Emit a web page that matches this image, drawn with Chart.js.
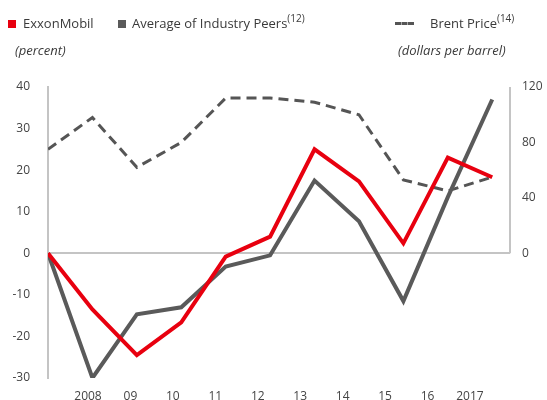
<!DOCTYPE html>
<html>
<head>
<meta charset="utf-8">
<script src="https://cdn.jsdelivr.net/npm/chart.js@4"></script>
<style>
  html, body { margin: 0; padding: 0; background: #fff; }
  #wrap { position: relative; width: 547px; height: 400px; font-family: "Open Sans", sans-serif; color: #3a3a3a; }
  #myChart { position: absolute; left: 0; top: 0; }
  .lbl { position: absolute; font-size: 13px; line-height: 16px; white-space: nowrap; }
  .lbl sup { font-size: 10px; line-height: 0; vertical-align: 6px; }
  .sq { position: absolute; width: 8px; height: 8px; }
  .dash { position: absolute; height: 0; width: 19px; border-top: 3px dashed #555; }
  .unit { font-style: italic; }
</style>
</head>
<body>
<div id="wrap">
  <canvas id="myChart" width="547" height="400"></canvas>
  <div class="sq" style="left:8px;top:20px;background:#e8000f"></div>
  <div class="lbl" style="left:23px;top:15px">ExxonMobil</div>
  <div class="sq" style="left:118px;top:20px;background:#5a5a5a"></div>
  <div class="lbl" style="left:132px;top:15px">Average of Industry Peers<sup>(12)</sup></div>
  <div class="dash" style="left:395px;top:22px"></div>
  <div class="lbl" style="left:430px;top:15px">Brent Price<sup>(14)</sup></div>
  <div class="lbl unit" style="left:15px;top:42px">(percent)</div>
  <div class="lbl unit" style="left:398px;top:42px">(dollars per barrel)</div>
</div>
<script>
// x positions 0..10, first point is the 2007 baseline
const years = ['2007', '2008', '09', '10', '11', '12', '13', '14', '15', '16', '2017'];
const exxon = [0, -13.5, -24.5, -16.6, -0.8, 4, 25, 17.3, 2.4, 23, 18.3];
const peers = [0, -30, -14.7, -13, -3.2, -0.5, 17.5, 7.7, -11.5, 13.5, 37];
const brent = [75, 98, 62, 80, 112, 112, 109, 100, 53, 45, 55];

const pts = arr => arr.map((v, i) => ({ x: i, y: v }));

// short right axis line, from 0 to 120 only
const rightAxisLine = {
    id: 'rightAxisLine',
    afterDraw(chart) {
        const ctx = chart.ctx;
        const s = chart.scales.y2;
        ctx.save();
        ctx.strokeStyle = '#c4c4c4';
        ctx.lineWidth = 2;
        ctx.beginPath();
        ctx.moveTo(chart.chartArea.right, s.getPixelForValue(120));
        ctx.lineTo(chart.chartArea.right, s.getPixelForValue(0));
        ctx.stroke();
        ctx.restore();
    }
};

const ctx = document.getElementById('myChart').getContext('2d');
const myChart = new Chart(ctx, {
    type: 'line',
    data: {
        datasets: [
            {
                label: 'ExxonMobil',
                data: pts(exxon),
                borderColor: '#e8000f',
                borderWidth: 4,
                yAxisID: 'y'
            },
            {
                label: 'Average of Industry Peers',
                data: pts(peers),
                borderColor: '#5a5a5a',
                borderWidth: 4,
                yAxisID: 'y'
            },
            {
                label: 'Brent Price',
                data: pts(brent),
                borderColor: '#555555',
                borderWidth: 3,
                borderDash: [10, 6],
                yAxisID: 'y2'
            }
        ]
    },
    options: {
        responsive: false,
        animation: false,
        layout: { padding: { top: 87, left: 0, right: 0, bottom: 0 } },
        elements: {
            point: { radius: 0 },
            line: { tension: 0, borderCapStyle: 'butt', borderJoinStyle: 'miter' }
        },
        plugins: {
            legend: { display: false },
            tooltip: { enabled: false }
        },
        scales: {
            x: {
                type: 'linear',
                min: 0,
                max: 10.4,
                display: false
            },
            xl: {
                type: 'linear',
                position: 'bottom',
                min: 0.0575,
                max: 10.944,
                grid: { display: false },
                border: { display: false },
                afterFit: s => { s.height = 22; },
                ticks: {
                    stepSize: 1,
                    includeBounds: false,
                    autoSkip: false,
                    maxRotation: 0,
                    padding: 3,
                    color: '#444',
                    font: { family: 'Open Sans', size: 12 },
                    callback: v => (Number.isInteger(v) && v >= 1 && v <= 10) ? years[v] : null
                }
            },
            y: {
                position: 'left',
                min: -30,
                max: 40,
                afterFit: s => { s.width = 48; s.paddingBottom = 0; s.paddingTop = 0; },
                border: { display: true, color: '#c4c4c4', width: 2 },
                grid: {
                    drawTicks: false,
                    color: c => c.tick.value === 0 ? '#c4c4c4' : 'rgba(0,0,0,0)',
                    lineWidth: 2
                },
                ticks: {
                    stepSize: 10,
                    padding: 18,
                    color: '#444',
                    font: { family: 'Open Sans', size: 12 }
                }
            },
            y2: {
                position: 'right',
                min: -90,
                max: 120,
                afterFit: s => { s.width = 37; s.paddingBottom = 0; s.paddingTop = 0; },
                border: { display: false },
                grid: { display: false, drawTicks: false },
                ticks: {
                    stepSize: 40,
                    padding: 12,
                    color: '#444',
                    font: { family: 'Open Sans', size: 12 },
                    callback: v => (v >= 0 && v % 40 === 0) ? v : null
                }
            }
        }
    },
    plugins: [rightAxisLine]
});
</script>
</body>
</html>
